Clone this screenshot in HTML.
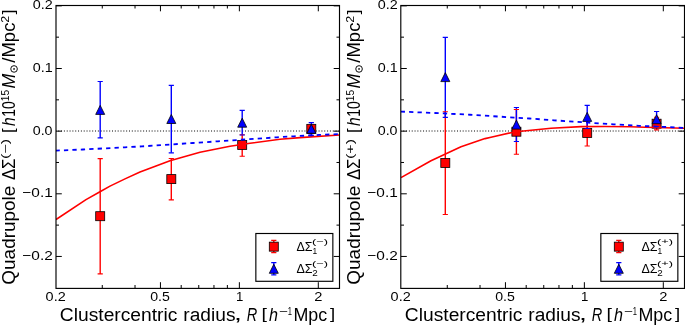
<!DOCTYPE html><html><head><meta charset="utf-8"><style>html,body{margin:0;padding:0;background:#fff;}svg{display:block;will-change:transform;}text{font-kerning:none;}</style></head><body>
<svg width="685" height="325" viewBox="0 0 685 325" font-family='"Liberation Sans", sans-serif' fill="#000">
<rect width="685" height="325" fill="#fff"/>
<clipPath id="c0"><rect x="56.0" y="5.5" width="283.5" height="282.5"/></clipPath>
<g clip-path="url(#c0)">
<path d="M56.0 131.0H339.5" stroke="#000" stroke-width="1" stroke-dasharray="1 1.83" stroke-dashoffset="0.59" fill="none"/>
<path d="M100.20 158.60V273.90" stroke="#f00" stroke-width="1.4" fill="none"/><path d="M171.30 158.50V199.90" stroke="#f00" stroke-width="1.4" fill="none"/><path d="M242.20 134.70V156.20" stroke="#f00" stroke-width="1.4" fill="none"/><path d="M311.30 126.00V131.70" stroke="#f00" stroke-width="1.4" fill="none"/>
<path d="M100.20 81.50V137.90" stroke="#00f" stroke-width="1.4" fill="none"/><path d="M171.30 85.40V152.80" stroke="#00f" stroke-width="1.4" fill="none"/><path d="M242.20 110.40V135.00" stroke="#00f" stroke-width="1.4" fill="none"/><path d="M311.30 122.60V135.30" stroke="#00f" stroke-width="1.4" fill="none"/>
<path d="M97.60 158.60h5.20M97.60 273.90h5.20" stroke="#f00" stroke-width="1.15" fill="none"/><rect x="95.70" y="211.70" width="9.0" height="9.0" fill="#f00" stroke="#000" stroke-width="0.8"/><path d="M168.70 158.50h5.20M168.70 199.90h5.20" stroke="#f00" stroke-width="1.15" fill="none"/><rect x="166.80" y="174.60" width="9.0" height="9.0" fill="#f00" stroke="#000" stroke-width="0.8"/><path d="M239.60 134.70h5.20M239.60 156.20h5.20" stroke="#f00" stroke-width="1.15" fill="none"/><rect x="237.70" y="140.50" width="9.0" height="9.0" fill="#f00" stroke="#000" stroke-width="0.8"/><path d="M308.70 126.00h5.20M308.70 131.70h5.20" stroke="#f00" stroke-width="1.15" fill="none"/><rect x="306.80" y="124.35" width="9.0" height="9.0" fill="#f00" stroke="#000" stroke-width="0.8"/>
<path d="M97.60 81.50h5.20M97.60 137.90h5.20" stroke="#00f" stroke-width="1.15" fill="none"/><path d="M100.20 105.40L95.70 114.40H104.70Z" fill="#00f" stroke="#000" stroke-width="0.8"/><path d="M168.70 85.40h5.20M168.70 152.80h5.20" stroke="#00f" stroke-width="1.15" fill="none"/><path d="M171.30 114.50L166.80 123.50H175.80Z" fill="#00f" stroke="#000" stroke-width="0.8"/><path d="M239.60 110.40h5.20M239.60 135.00h5.20" stroke="#00f" stroke-width="1.15" fill="none"/><path d="M242.20 118.20L237.70 127.20H246.70Z" fill="#00f" stroke="#000" stroke-width="0.8"/><path d="M308.70 122.60h5.20M308.70 135.30h5.20" stroke="#00f" stroke-width="1.15" fill="none"/><path d="M311.30 124.30L306.80 133.30H315.80Z" fill="#00f" stroke="#000" stroke-width="0.8"/>
<polyline points="56.0,219.5 86.0,199.6 100.0,191.8 110.0,186.1 125.0,178.9 140.0,172.0 170.0,160.7 200.0,152.3 230.0,146.2 250.0,143.3 280.0,139.3 300.0,137.6 339.5,135.0" fill="none" stroke="#f00" stroke-width="1.6" stroke-linejoin="round"/>
<polyline points="56.0,150.60 83.0,149.50 125.0,147.30 142.0,146.40 193.0,143.00 218.0,141.30 277.0,137.30 294.0,136.30 319.0,134.90 339.5,134.10" stroke="#00f" stroke-width="1.8" stroke-dasharray="4.3 4.14" stroke-dashoffset="0.5" fill="none"/>
</g>
<path d="M56.00 256.45h5.8M339.50 256.45h-5.8M56.00 225.12h3.0M339.50 225.12h-3.0M56.00 193.80h5.8M339.50 193.80h-5.8M56.00 162.48h3.0M339.50 162.48h-3.0M56.00 131.15h5.8M339.50 131.15h-5.8M56.00 99.83h3.0M339.50 99.83h-3.0M56.00 68.50h5.8M339.50 68.50h-5.8M56.00 37.17h3.0M339.50 37.17h-3.0M56.00 5.85h5.8M339.50 5.85h-5.8M160.44 288.00v-5.8M160.44 5.50v5.8M239.37 288.00v-5.8M239.37 5.50v5.8M318.30 288.00v-5.8M318.30 5.50v5.8M102.27 288.00v-3.0M102.27 5.50v3.0M135.03 288.00v-3.0M135.03 5.50v3.0M181.20 288.00v-3.0M181.20 5.50v3.0M198.75 288.00v-3.0M198.75 5.50v3.0M213.96 288.00v-3.0M213.96 5.50v3.0M227.37 288.00v-3.0M227.37 5.50v3.0" stroke="#000" stroke-width="1" fill="none"/>
<rect x="56.0" y="5.5" width="283.5" height="282.9" fill="none" stroke="#000" stroke-width="1.15"/>
<text x="32.74" y="9.45" font-size="13.3" textLength="19.98" lengthAdjust="spacingAndGlyphs">0.2</text>
<text x="32.74" y="72.10" font-size="13.3" textLength="19.96" lengthAdjust="spacingAndGlyphs">0.1</text>
<text x="32.74" y="134.75" font-size="13.3" textLength="19.81" lengthAdjust="spacingAndGlyphs">0.0</text>
<text x="22.34" y="197.40" font-size="13.3" textLength="30.41" lengthAdjust="spacingAndGlyphs">−0.1</text>
<text x="22.34" y="260.05" font-size="13.3" textLength="30.44" lengthAdjust="spacingAndGlyphs">−0.2</text>
<text x="45.64" y="300.60" font-size="13.3" textLength="20.09" lengthAdjust="spacingAndGlyphs">0.2</text>
<text x="150.25" y="300.60" font-size="13.3" textLength="19.65" lengthAdjust="spacingAndGlyphs">0.5</text>
<text x="235.89" y="300.60" font-size="13.3" textLength="7.35" lengthAdjust="spacingAndGlyphs">1</text>
<text x="314.36" y="300.60" font-size="13.3" textLength="8.18" lengthAdjust="spacingAndGlyphs">2</text>
<rect x="255.85" y="233.5" width="77.0" height="47.8" fill="#fff" stroke="#000" stroke-width="1.15"/>
<path d="M273.80 240.40V252.60" stroke="#f00" stroke-width="1.4" fill="none"/><path d="M271.20 240.40h5.20M271.20 252.60h5.20" stroke="#f00" stroke-width="1.15" fill="none"/><rect x="269.30" y="242.15" width="9.0" height="9.0" fill="#f00" stroke="#000" stroke-width="0.8"/>
<path d="M273.80 262.60V274.90" stroke="#00f" stroke-width="1.4" fill="none"/><path d="M271.20 262.60h5.20M271.20 274.90h5.20" stroke="#00f" stroke-width="1.15" fill="none"/><path d="M273.80 264.30L269.30 273.30H278.30Z" fill="#00f" stroke="#000" stroke-width="0.8"/>
<text x="296.43" y="250.60" font-size="12.4" textLength="16.07" lengthAdjust="spacingAndGlyphs">ΔΣ</text>
<text x="312.01" y="244.30" font-size="7.6" textLength="15.99" lengthAdjust="spacingAndGlyphs">(−)</text>
<text x="312.50" y="253.50" font-size="8.4">1</text>
<text x="296.43" y="272.60" font-size="12.4" textLength="16.07" lengthAdjust="spacingAndGlyphs">ΔΣ</text>
<text x="312.01" y="266.30" font-size="7.6" textLength="15.99" lengthAdjust="spacingAndGlyphs">(−)</text>
<text x="312.20" y="275.60" font-size="8.6" textLength="5.49" lengthAdjust="spacingAndGlyphs">2</text>
<text x="59.82" y="320.80" font-size="17.6" textLength="117.58" lengthAdjust="spacingAndGlyphs">Clustercentric</text>
<text x="183.33" y="320.80" font-size="17.6" textLength="52.16" lengthAdjust="spacingAndGlyphs">radius</text>
<text x="234.04" y="320.40" font-size="17.6" textLength="7.93" lengthAdjust="spacingAndGlyphs">,</text>
<text x="246.75" y="320.80" font-size="17.6" textLength="10.49" lengthAdjust="spacingAndGlyphs" font-style="italic">R</text>
<text x="261.40" y="319.40" font-size="15.5" textLength="5.45" lengthAdjust="spacingAndGlyphs">[</text>
<text x="268.93" y="320.80" font-size="17.6" textLength="9.01" lengthAdjust="spacingAndGlyphs" font-style="italic">h</text>
<text x="278.85" y="314.50" font-size="10.6" textLength="8.89" lengthAdjust="spacingAndGlyphs">−</text>
<text x="287.72" y="314.80" font-size="10.6" textLength="4.26" lengthAdjust="spacingAndGlyphs">1</text>
<text x="293.44" y="320.80" font-size="17.6" textLength="33.74" lengthAdjust="spacingAndGlyphs">Mpc</text>
<text x="330.05" y="319.40" font-size="15.5" textLength="5.17" lengthAdjust="spacingAndGlyphs">]</text>
<g transform="translate(14.8 0) rotate(-90)">
<text x="-284.70" y="0.00" font-size="17.6" textLength="99.04" lengthAdjust="spacingAndGlyphs">Quadrupole</text>
<text x="-180.10" y="0.00" font-size="17.6" textLength="21.56" lengthAdjust="spacingAndGlyphs">ΔΣ</text>
<text x="-159.10" y="-5.80" font-size="10.6" textLength="20.09" lengthAdjust="spacingAndGlyphs">(−)</text>
<text x="-133.12" y="-1.20" font-size="15.8" textLength="4.75" lengthAdjust="spacingAndGlyphs">[</text>
<text x="-126.06" y="0.00" font-size="17.6" textLength="8.67" lengthAdjust="spacingAndGlyphs" font-style="italic">h</text>
<text x="-116.76" y="0.00" font-size="17.6" textLength="15.51" lengthAdjust="spacingAndGlyphs">10</text>
<text x="-101.27" y="-5.90" font-size="10.6" textLength="11.30" lengthAdjust="spacingAndGlyphs">15</text>
<text x="-88.64" y="0.00" font-size="17.6" textLength="14.74" lengthAdjust="spacingAndGlyphs" font-style="italic">M</text>
<text x="-62.70" y="0.00" font-size="17.6" textLength="40.09" lengthAdjust="spacingAndGlyphs">/Mpc</text>
<text x="-22.83" y="-5.90" font-size="10.6" textLength="6.96" lengthAdjust="spacingAndGlyphs">2</text>
<text x="-14.64" y="-1.20" font-size="15.8" textLength="5.03" lengthAdjust="spacingAndGlyphs">]</text>
</g>
<circle cx="14.05" cy="68.95" r="3.3" fill="none" stroke="#000" stroke-width="0.95"/><circle cx="14.05" cy="68.95" r="0.85"/>
<clipPath id="c345"><rect x="401.0" y="5.5" width="283.5" height="282.5"/></clipPath>
<g clip-path="url(#c345)">
<path d="M401.0 131.0H684.5" stroke="#000" stroke-width="1" stroke-dasharray="1 1.83" stroke-dashoffset="0.59" fill="none"/>
<path d="M445.30 111.70V214.50" stroke="#f00" stroke-width="1.4" fill="none"/><path d="M516.40 109.50V154.20" stroke="#f00" stroke-width="1.4" fill="none"/><path d="M587.20 119.80V146.00" stroke="#f00" stroke-width="1.4" fill="none"/><path d="M656.60 117.20V129.90" stroke="#f00" stroke-width="1.4" fill="none"/>
<path d="M445.30 37.40V117.40" stroke="#00f" stroke-width="1.4" fill="none"/><path d="M516.40 107.50V141.50" stroke="#00f" stroke-width="1.4" fill="none"/><path d="M587.20 105.40V128.50" stroke="#00f" stroke-width="1.4" fill="none"/><path d="M656.60 111.50V126.50" stroke="#00f" stroke-width="1.4" fill="none"/>
<path d="M442.70 111.70h5.20M442.70 214.50h5.20" stroke="#f00" stroke-width="1.15" fill="none"/><rect x="440.80" y="158.50" width="9.0" height="9.0" fill="#f00" stroke="#000" stroke-width="0.8"/><path d="M513.80 109.50h5.20M513.80 154.20h5.20" stroke="#f00" stroke-width="1.15" fill="none"/><rect x="511.90" y="127.20" width="9.0" height="9.0" fill="#f00" stroke="#000" stroke-width="0.8"/><path d="M584.60 119.80h5.20M584.60 146.00h5.20" stroke="#f00" stroke-width="1.15" fill="none"/><rect x="582.70" y="128.40" width="9.0" height="9.0" fill="#f00" stroke="#000" stroke-width="0.8"/><path d="M654.00 117.20h5.20M654.00 129.90h5.20" stroke="#f00" stroke-width="1.15" fill="none"/><rect x="652.10" y="119.20" width="9.0" height="9.0" fill="#f00" stroke="#000" stroke-width="0.8"/>
<path d="M442.70 37.40h5.20M442.70 117.40h5.20" stroke="#00f" stroke-width="1.15" fill="none"/><path d="M445.30 72.60L440.80 81.60H449.80Z" fill="#00f" stroke="#000" stroke-width="0.8"/><path d="M513.80 107.50h5.20M513.80 141.50h5.20" stroke="#00f" stroke-width="1.15" fill="none"/><path d="M516.40 120.10L511.90 129.10H520.90Z" fill="#00f" stroke="#000" stroke-width="0.8"/><path d="M584.60 105.40h5.20M584.60 128.50h5.20" stroke="#00f" stroke-width="1.15" fill="none"/><path d="M587.20 112.40L582.70 121.40H591.70Z" fill="#00f" stroke="#000" stroke-width="0.8"/><path d="M654.00 111.50h5.20M654.00 126.50h5.20" stroke="#00f" stroke-width="1.15" fill="none"/><path d="M656.60 114.70L652.10 123.70H661.10Z" fill="#00f" stroke="#000" stroke-width="0.8"/>
<polyline points="401.0,177.6 431.0,160.7 446.0,153.7 461.0,146.8 485.0,138.6 491.0,137.3 511.0,132.7 521.0,131.2 551.0,128.3 581.0,126.6 605.0,126.5 630.0,126.8 645.0,127.2 684.5,128.2" fill="none" stroke="#f00" stroke-width="1.6" stroke-linejoin="round"/>
<polyline points="401.0,111.60 445.0,113.45 470.0,114.76 529.4,118.50 554.0,120.30 613.6,124.35 639.0,125.80 664.0,126.90 684.5,127.85" stroke="#00f" stroke-width="1.8" stroke-dasharray="4.3 4.14" stroke-dashoffset="0.35" fill="none"/>
</g>
<path d="M401.00 256.45h5.8M684.50 256.45h-5.8M401.00 225.12h3.0M684.50 225.12h-3.0M401.00 193.80h5.8M684.50 193.80h-5.8M401.00 162.48h3.0M684.50 162.48h-3.0M401.00 131.15h5.8M684.50 131.15h-5.8M401.00 99.83h3.0M684.50 99.83h-3.0M401.00 68.50h5.8M684.50 68.50h-5.8M401.00 37.17h3.0M684.50 37.17h-3.0M401.00 5.85h5.8M684.50 5.85h-5.8M505.44 288.00v-5.8M505.44 5.50v5.8M584.37 288.00v-5.8M584.37 5.50v5.8M663.30 288.00v-5.8M663.30 5.50v5.8M447.27 288.00v-3.0M447.27 5.50v3.0M480.03 288.00v-3.0M480.03 5.50v3.0M526.20 288.00v-3.0M526.20 5.50v3.0M543.75 288.00v-3.0M543.75 5.50v3.0M558.96 288.00v-3.0M558.96 5.50v3.0M572.37 288.00v-3.0M572.37 5.50v3.0" stroke="#000" stroke-width="1" fill="none"/>
<rect x="400.8" y="5.5" width="283.7" height="282.9" fill="none" stroke="#000" stroke-width="1.15"/>
<text x="377.74" y="9.45" font-size="13.3" textLength="19.98" lengthAdjust="spacingAndGlyphs">0.2</text>
<text x="377.74" y="72.10" font-size="13.3" textLength="19.96" lengthAdjust="spacingAndGlyphs">0.1</text>
<text x="377.74" y="134.75" font-size="13.3" textLength="19.81" lengthAdjust="spacingAndGlyphs">0.0</text>
<text x="367.34" y="197.40" font-size="13.3" textLength="30.41" lengthAdjust="spacingAndGlyphs">−0.1</text>
<text x="367.34" y="260.05" font-size="13.3" textLength="30.44" lengthAdjust="spacingAndGlyphs">−0.2</text>
<text x="390.64" y="300.60" font-size="13.3" textLength="20.09" lengthAdjust="spacingAndGlyphs">0.2</text>
<text x="495.25" y="300.60" font-size="13.3" textLength="19.65" lengthAdjust="spacingAndGlyphs">0.5</text>
<text x="580.89" y="300.60" font-size="13.3" textLength="7.35" lengthAdjust="spacingAndGlyphs">1</text>
<text x="659.36" y="300.60" font-size="13.3" textLength="8.18" lengthAdjust="spacingAndGlyphs">2</text>
<rect x="600.85" y="233.5" width="77.0" height="47.8" fill="#fff" stroke="#000" stroke-width="1.15"/>
<path d="M618.80 240.40V252.60" stroke="#f00" stroke-width="1.4" fill="none"/><path d="M616.20 240.40h5.20M616.20 252.60h5.20" stroke="#f00" stroke-width="1.15" fill="none"/><rect x="614.30" y="242.15" width="9.0" height="9.0" fill="#f00" stroke="#000" stroke-width="0.8"/>
<path d="M618.80 262.60V274.90" stroke="#00f" stroke-width="1.4" fill="none"/><path d="M616.20 262.60h5.20M616.20 274.90h5.20" stroke="#00f" stroke-width="1.15" fill="none"/><path d="M618.80 264.30L614.30 273.30H623.30Z" fill="#00f" stroke="#000" stroke-width="0.8"/>
<text x="641.43" y="250.60" font-size="12.4" textLength="16.07" lengthAdjust="spacingAndGlyphs">ΔΣ</text>
<text x="657.01" y="244.30" font-size="7.6" textLength="15.99" lengthAdjust="spacingAndGlyphs">(+)</text>
<text x="657.50" y="253.50" font-size="8.4">1</text>
<text x="641.43" y="272.60" font-size="12.4" textLength="16.07" lengthAdjust="spacingAndGlyphs">ΔΣ</text>
<text x="657.01" y="266.30" font-size="7.6" textLength="15.99" lengthAdjust="spacingAndGlyphs">(+)</text>
<text x="657.20" y="275.60" font-size="8.6" textLength="5.49" lengthAdjust="spacingAndGlyphs">2</text>
<text x="404.82" y="320.80" font-size="17.6" textLength="117.58" lengthAdjust="spacingAndGlyphs">Clustercentric</text>
<text x="528.33" y="320.80" font-size="17.6" textLength="52.16" lengthAdjust="spacingAndGlyphs">radius</text>
<text x="579.04" y="320.40" font-size="17.6" textLength="7.93" lengthAdjust="spacingAndGlyphs">,</text>
<text x="591.75" y="320.80" font-size="17.6" textLength="10.49" lengthAdjust="spacingAndGlyphs" font-style="italic">R</text>
<text x="606.40" y="319.40" font-size="15.5" textLength="5.45" lengthAdjust="spacingAndGlyphs">[</text>
<text x="613.93" y="320.80" font-size="17.6" textLength="9.01" lengthAdjust="spacingAndGlyphs" font-style="italic">h</text>
<text x="623.85" y="314.50" font-size="10.6" textLength="8.89" lengthAdjust="spacingAndGlyphs">−</text>
<text x="632.72" y="314.80" font-size="10.6" textLength="4.26" lengthAdjust="spacingAndGlyphs">1</text>
<text x="638.44" y="320.80" font-size="17.6" textLength="33.74" lengthAdjust="spacingAndGlyphs">Mpc</text>
<text x="675.05" y="319.40" font-size="15.5" textLength="5.17" lengthAdjust="spacingAndGlyphs">]</text>
<g transform="translate(359.8 0) rotate(-90)">
<text x="-284.70" y="0.00" font-size="17.6" textLength="99.04" lengthAdjust="spacingAndGlyphs">Quadrupole</text>
<text x="-180.10" y="0.00" font-size="17.6" textLength="21.56" lengthAdjust="spacingAndGlyphs">ΔΣ</text>
<text x="-159.10" y="-5.80" font-size="10.6" textLength="20.09" lengthAdjust="spacingAndGlyphs">(+)</text>
<text x="-133.12" y="-1.20" font-size="15.8" textLength="4.75" lengthAdjust="spacingAndGlyphs">[</text>
<text x="-126.06" y="0.00" font-size="17.6" textLength="8.67" lengthAdjust="spacingAndGlyphs" font-style="italic">h</text>
<text x="-116.76" y="0.00" font-size="17.6" textLength="15.51" lengthAdjust="spacingAndGlyphs">10</text>
<text x="-101.27" y="-5.90" font-size="10.6" textLength="11.30" lengthAdjust="spacingAndGlyphs">15</text>
<text x="-88.64" y="0.00" font-size="17.6" textLength="14.74" lengthAdjust="spacingAndGlyphs" font-style="italic">M</text>
<text x="-62.70" y="0.00" font-size="17.6" textLength="40.09" lengthAdjust="spacingAndGlyphs">/Mpc</text>
<text x="-22.83" y="-5.90" font-size="10.6" textLength="6.96" lengthAdjust="spacingAndGlyphs">2</text>
<text x="-14.64" y="-1.20" font-size="15.8" textLength="5.03" lengthAdjust="spacingAndGlyphs">]</text>
</g>
<circle cx="359.05" cy="68.95" r="3.3" fill="none" stroke="#000" stroke-width="0.95"/><circle cx="359.05" cy="68.95" r="0.85"/>
</svg></body></html>
